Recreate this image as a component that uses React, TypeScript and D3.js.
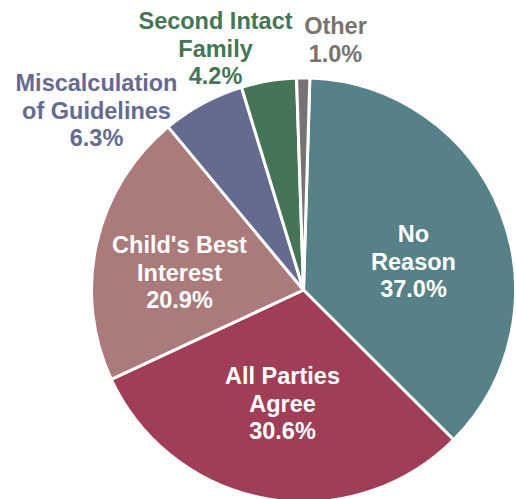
import React, { useEffect, useRef } from "react";
import * as d3 from "d3";

const categories = [
  "No Reason",
  "All Parties Agree",
  "Child's Best Interest",
  "Miscalculation of Guidelines",
  "Second Intact Family",
  "Other",
];
const shares = [37.0, 30.6, 20.9, 6.3, 4.2, 1.0];
const colors = ["#558187", "#A03E57", "#AB7A7B", "#656B8F", "#467456", "#777372"];

// label lines and where they sit (relative to pie centre), inside = white text
const labelLines = [
  ["No", "Reason"],
  ["All Parties", "Agree"],
  ["Child's Best", "Interest"],
  ["Miscalculation", "of Guidelines"],
  ["Second Intact", "Family"],
  ["Other"],
];
const labelPos: [number, number, boolean][] = [
  [110, -48, true],
  [-21, 94, true],
  [-124, -37, true],
  [-207, -199, false],
  [-88, -261, false],
  [32, -256, false],
];

const W = 516;
const H = 499;

const Pie = () => {
  const svgRef = useRef<SVGSVGElement>(null);

  useEffect(() => {
    document.body.style.margin = "0";
    const svg = d3.select(svgRef.current);
    svg.selectAll("*").remove();

    const cx = 303.5;
    const cy = 290;
    const r = 212;
    const start = 0.03;

    const data = categories.map((c, i) => ({ c, v: shares[i], i }));
    const pie = d3
      .pie<any>()
      .sort(null)
      .value((d) => d.v)
      .startAngle(start)
      .endAngle(start + 2 * Math.PI);
    const arc = d3.arc<any>().innerRadius(0).outerRadius(r);

    const g = svg.append("g").attr("transform", `translate(${cx},${cy})`);

    g.selectAll("path")
      .data(pie(data))
      .enter()
      .append("path")
      .attr("d", arc)
      .attr("fill", (d) => colors[d.data.i])
      .attr("stroke", "#fff")
      .attr("stroke-width", 3)
      .attr("stroke-linejoin", "round");

    const lineH = 27.5;
    data.forEach((d, i) => {
      const [x, y, inside] = labelPos[i];
      const lines = [...labelLines[i], d.v.toFixed(1) + "%"];
      const t = g
        .append("text")
        .attr("x", x)
        .attr("y", y)
        .attr("text-anchor", "middle")
        .attr("font-family", "'Liberation Sans', Arial, sans-serif")
        .attr("font-weight", "bold")
        .attr("font-size", 23.5)
        .attr("fill", inside ? "#fff" : colors[i]);
      lines.forEach((l, k) => {
        t.append("tspan")
          .attr("x", x)
          .attr("y", y + k * lineH)
          .text(l);
      });
    });
  }, []);

  return <svg ref={svgRef} width={W} height={H} style={{ display: "block" }} />;
};

const App = () => <Pie />;

export default App;
